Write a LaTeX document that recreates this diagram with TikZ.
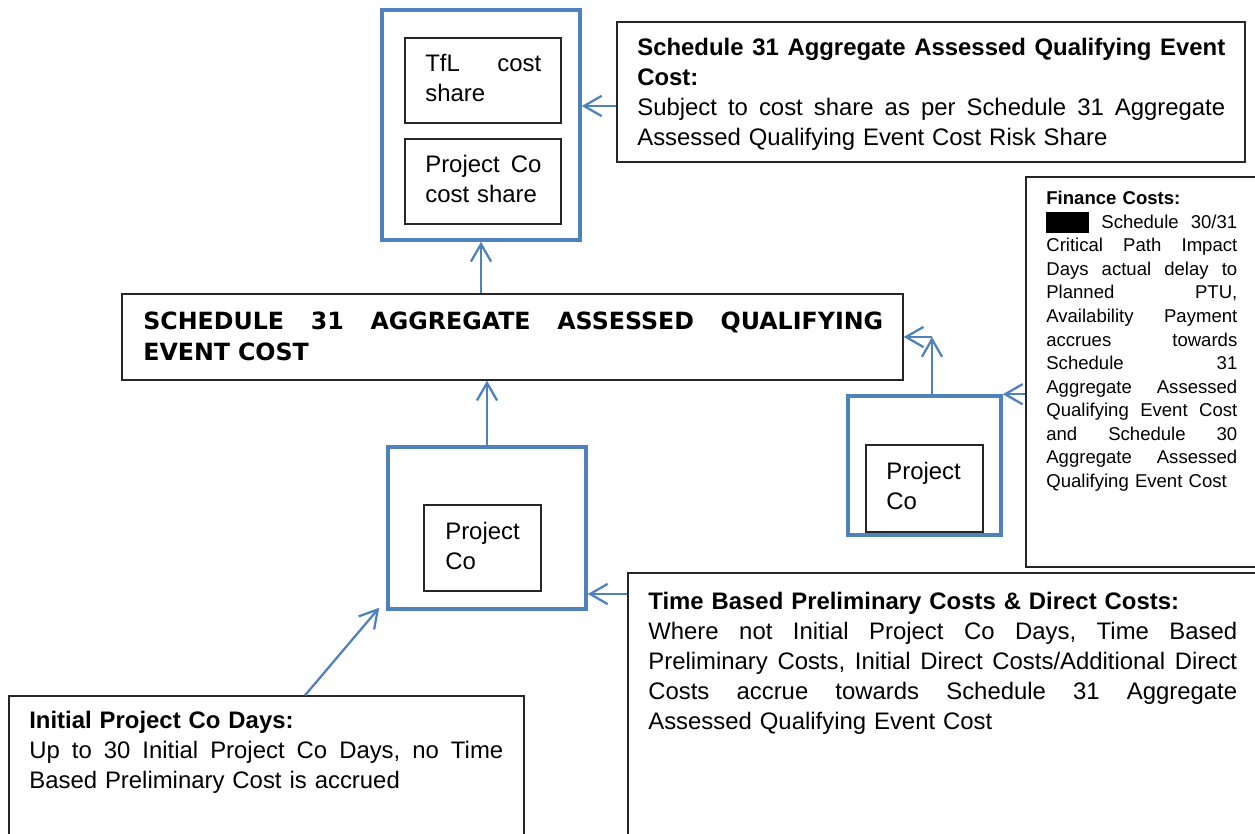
\documentclass[tikz,border=0pt]{standalone}
\usepackage{fontspec}
\setmainfont{Liberation Sans}
\newfontfamily\titlefont{DejaVu Sans}
\usetikzlibrary{fit,arrows.meta}
\definecolor{ablue}{HTML}{4F81BD}
\setlength\parindent{0pt}
\begin{document}
\begin{tikzpicture}[x=0.02cm,y=-0.02cm,
  blackbox/.style={draw=black!85,line width=0.75pt,inner sep=0pt},
  bluebox/.style={draw=ablue,line width=2pt,inner sep=0pt},
  txt/.style={inner sep=0pt,anchor=north west,align=left,font=\fontsize{13.6}{17}\selectfont},
  smalltxt/.style={inner sep=0pt,anchor=north west,align=left,font=\fontsize{10.56}{13.4}\selectfont},
  arr/.style={draw=ablue,line width=1.3pt,-{Straight Barb[length=10pt,width=11.5pt]}}]
\useasboundingbox (0,0) rectangle (1255,834);
\clip (0,0) rectangle (1255,834);
% boxes
\node[bluebox,fit={(382,10)(580,240)}] (topouter) {};
\node[blackbox,fit={(405,38)(561,123)}] (tflbox) {};
\node[blackbox,fit={(405,139)(561,224)}] (pcsbox) {};
\node[blackbox,fit={(617,22)(1245,162)}] (s31box) {};
\node[blackbox,fit={(122,294)(903,380)}] (titlebox) {};
\node[bluebox,fit={(388,447)(586,609)}] (midouter) {};
\node[blackbox,fit={(424,505)(541,591)}] (midinner) {};
\node[bluebox,fit={(848,396)(1001,535)}] (rightouter) {};
\node[blackbox,fit={(866,445)(983,532)}] (rightinner) {};
\node[blackbox,fit={(1026,177)(1275,567)}] (finbox) {};
\node[blackbox,fit={(628,573)(1275,860)}] (timebox) {};
\node[blackbox,fit={(9,696)(524,860)}] (initbox) {};
% texts
\node[txt,text width=2.32cm] (tfltxt) at (425,54) {TfL\hfill cost\\share};
\node[txt,text width=2.32cm] (pcstxt) at (425,155) {Project\hfill Co\\cost share};
\node[txt,text width=11.76cm] (s31txt) at (637,38) {\textbf{Schedule\hfill 31\hfill Aggregate\hfill Assessed\hfill Qualifying\hfill Event}\\\textbf{Cost:}\\Subject\hfill to\hfill cost\hfill share\hfill as\hfill per\hfill Schedule\hfill 31\hfill Aggregate\\Assessed Qualifying Event Cost Risk Share};
\node[txt,font=\titlefont\bfseries\fontsize{13.5}{17.6}\selectfont,text width=14.8cm] (titletxt) at (143,312) {SCHEDULE\hfill 31\hfill AGGREGATE\hfill ASSESSED\hfill QUALIFYING\\EVENT COST};
\node[txt] (midtxt) at (445,522) {Project\\Co};
\node[txt] (righttxt) at (886,462) {Project\\Co};
\node[smalltxt,text width=3.82cm] (fintxt) at (1046,191) {\textbf{Finance Costs:}\\\rule[-2.8pt]{24.4pt}{11.9pt}\hfill Schedule\hfill 30/31\\Critical\hfill Path\hfill Impact\\Days\hfill actual\hfill delay\hfill to\\Planned\hfill PTU,\\Availability\hfill Payment\\accrues\hfill towards\\Schedule\hfill 31\\Aggregate\hfill Assessed\\Qualifying\hfill Event\hfill Cost\\and\hfill Schedule\hfill 30\\Aggregate\hfill Assessed\\Qualifying Event Cost};
\node[txt,text width=11.78cm] (timetxt) at (648,592) {\textbf{Time Based Preliminary Costs \& Direct Costs:}\\Where\hfill not\hfill Initial\hfill Project\hfill Co\hfill Days,\hfill Time\hfill Based\\Preliminary\hfill Costs,\hfill Initial\hfill Direct\hfill Costs/Additional\hfill Direct\\Costs\hfill accrue\hfill towards\hfill Schedule\hfill 31\hfill Aggregate\\Assessed Qualifying Event Cost};
\node[txt,text width=9.48cm] (inittxt) at (29,711) {\textbf{Initial Project Co Days:}\\Up\hfill to\hfill 30\hfill Initial\hfill Project\hfill Co\hfill Days,\hfill no\hfill Time\\Based Preliminary Cost is accrued};
% connectors
\coordinate (a1) at (0,106);
\draw[arr] (s31box.west |- a1) -- (topouter.east |- a1);
\draw[arr] (topouter.south |- titlebox.north) -- (topouter.south);
\draw[arr] (midouter.north) -- (midouter.north |- titlebox.south);
\coordinate (elbow) at (932,337);
\draw[arr] (rightouter.north -| elbow) -- (elbow);
\draw[arr] (elbow) -- (titlebox.east |- elbow);
\draw[arr] (finbox.west |- rightouter.north) -- (rightouter.north east);
\coordinate (a6) at (0,594);
\draw[arr] (timebox.west |- a6) -- (midouter.east |- a6);
\coordinate (a7) at (305,0);
\draw[arr] (initbox.north -| a7) -- ([shift={(-7,-3)}]midouter.south west);
\end{tikzpicture}
\end{document}
